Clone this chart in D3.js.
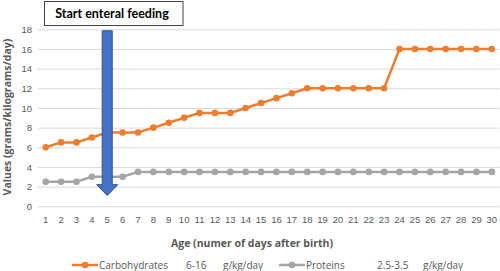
<!DOCTYPE html>
<html>
<head>
<meta charset="utf-8">
<script src="https://cdn.jsdelivr.net/npm/d3@7"></script>
<style>
  body { margin: 0; background: #fff; }
  svg { display: block; font-family: "Open Sans", "Liberation Sans", sans-serif; }
</style>
</head>
<body>
<svg width="500" height="271"></svg>
<script>
const days = d3.range(1, 31)
const carbs = [6, 6.5, 6.5, 7, 7.5, 7.5, 7.5, 8, 8.5, 9, 9.5, 9.5, 9.5, 10, 10.5, 11, 11.5, 12, 12, 12, 12, 12, 12, 16, 16, 16, 16, 16, 16, 16]
const proteins = [2.5, 2.5, 2.5, 3, 3, 3, 3.5, 3.5, 3.5, 3.5, 3.5, 3.5, 3.5, 3.5, 3.5, 3.5, 3.5, 3.5, 3.5, 3.5, 3.5, 3.5, 3.5, 3.5, 3.5, 3.5, 3.5, 3.5, 3.5, 3.5]
const yTicks = [0, 2, 4, 6, 8, 10, 12, 14, 16, 18]
const feedingDay = 5

const svg = d3.select("svg")
const x = d3.scaleBand().domain(days).range([38, 499.5])
const cx = d => x(d) + x.bandwidth() / 2
const y = d3.scaleLinear().domain([0, 18]).range([206.3, 29.3])

// gridlines + y labels
const yAxis = d3.axisLeft(y).tickValues(yTicks).tickSize(-(499.5 - 38)).tickPadding(6)
const gy = svg.append("g").attr("transform", "translate(38,0)").call(yAxis)
gy.select(".domain").remove()
gy.selectAll("line").attr("stroke", "#d9d9d9").attr("stroke-width", 1)
gy.selectAll("text").attr("fill", "#595959").attr("font-size", 9.5)

// x labels
const xAxis = d3.axisBottom(x).tickSize(0).tickPadding(10)
const gx = svg.append("g").attr("transform", "translate(0,206.3)").call(xAxis)
gx.select(".domain").remove()
gx.selectAll("text").attr("fill", "#595959").attr("font-size", 9.5)

// series
const series = [
  { name: "Carbohydrates", vals: carbs, color: "#ed7d31", range: "6-16" },
  { name: "Proteins", vals: proteins, color: "#a5a5a5", range: "2.5-3.5" }
]
const line = d3.line().x((d, i) => cx(days[i])).y(d => y(d))

series.slice().reverse().forEach(s => {
  svg.append("path").attr("d", line(s.vals))
    .attr("fill", "none").attr("stroke", s.color).attr("stroke-width", 2.5)
  svg.selectAll(null).data(s.vals).enter().append("circle")
    .attr("cx", (d, i) => cx(days[i])).attr("cy", d => y(d))
    .attr("r", 3.3).attr("fill", s.color)
})

// arrow at start of enteral feeding
const ax = cx(feedingDay)
const topY = y(17.85), headY = y(2.2), tipY = y(1.1)
const arrow = d3.path()
arrow.moveTo(ax - 5, topY); arrow.lineTo(ax + 5, topY); arrow.lineTo(ax + 5, headY)
arrow.lineTo(ax + 10.5, headY); arrow.lineTo(ax, tipY); arrow.lineTo(ax - 10.5, headY)
arrow.lineTo(ax - 5, headY); arrow.closePath()
svg.append("path").attr("d", arrow.toString())
  .attr("fill", "#4472c4").attr("stroke", "#2f528f").attr("stroke-width", 1)

// label box
svg.append("rect").attr("x", 44.5).attr("y", 1.5).attr("width", 138.5).attr("height", 24)
  .attr("fill", "#fff").attr("stroke", "#404040").attr("stroke-width", 1)
svg.append("text").attr("x", 112).attr("y", 18).attr("text-anchor", "middle")
  .attr("font-family", "Lato, 'Open Sans', sans-serif")
  .attr("font-weight", "bold").attr("font-size", 12.5).attr("fill", "#000")
  .text("Start enteral feeding")

// axis titles
svg.append("text").attr("x", 252).attr("y", 247).attr("text-anchor", "middle")
  .attr("font-weight", "bold").attr("font-size", 10.5).attr("fill", "#595959")
  .text("Age (numer of days after birth)")
svg.append("text").attr("transform", "translate(11,117) rotate(-90)").attr("text-anchor", "middle")
  .attr("font-weight", "bold").attr("font-size", 10.5).attr("fill", "#595959")
  .text("Values (grams/kilograms/day)")

// legend
const legX = [72, 279]
const leg = svg.selectAll(".leg").data(series).enter().append("g")
  .attr("transform", (d, i) => `translate(${legX[i]},265)`)
leg.append("line").attr("x1", 0).attr("x2", 26).attr("stroke", d => d.color).attr("stroke-width", 2.5)
leg.append("circle").attr("cx", 13).attr("r", 3.3).attr("fill", d => d.color)
leg.append("text").attr("x", 27).attr("dy", "0.35em").attr("font-size", 10).attr("fill", "#595959").text(d => d.name)
leg.append("text").attr("x", (d, i) => [114, 98][i]).attr("dy", "0.35em").attr("font-size", 10).attr("fill", "#595959").text(d => d.range)
leg.append("text").attr("x", (d, i) => [151, 144][i]).attr("dy", "0.35em").attr("font-size", 10).attr("fill", "#595959").text("g/kg/day")
</script>
</body>
</html>
